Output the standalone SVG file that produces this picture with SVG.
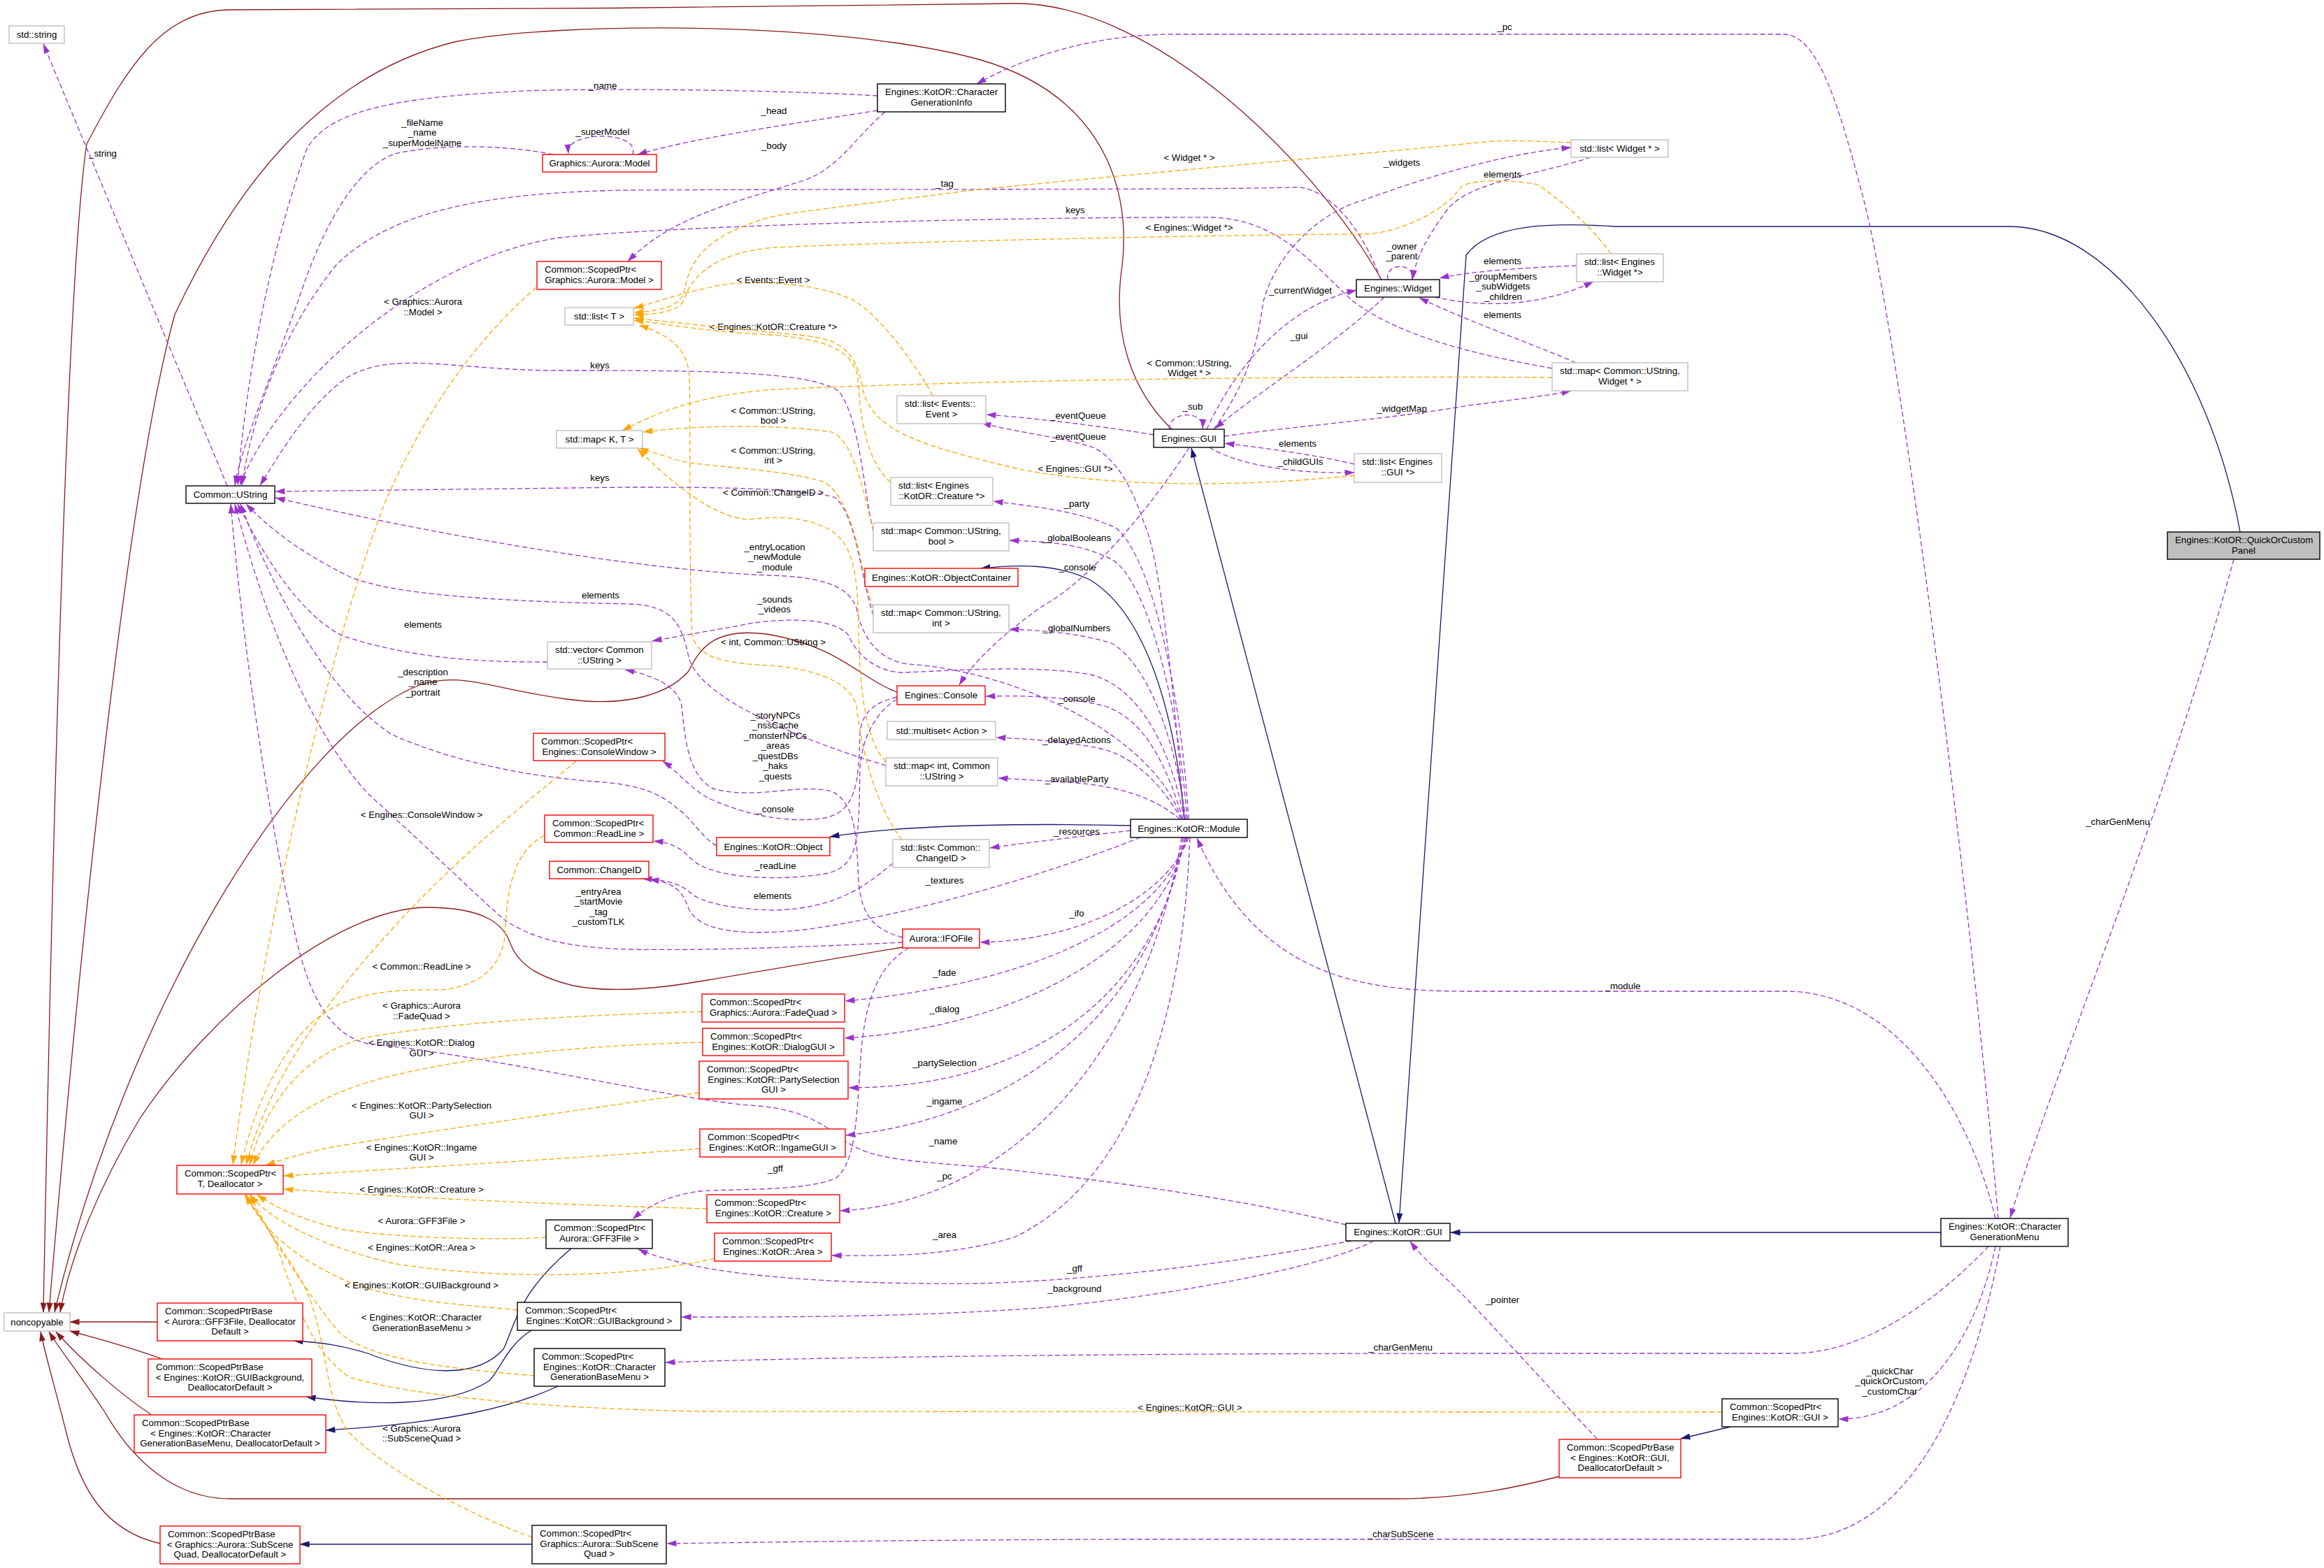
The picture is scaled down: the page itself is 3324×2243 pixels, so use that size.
<svg xmlns="http://www.w3.org/2000/svg" width="3324" height="2243" viewBox="0 0 3324 2243">
<defs>
<style>
text{font-family:"Liberation Sans",Arial,Helvetica,sans-serif;font-size:13.3px;fill:#000}
.c{text-anchor:middle}
.s{text-anchor:start}
rect{fill:#fff;stroke-width:1.4}
.k{stroke:#000}
.g{stroke:#bfbfbf}
.r{stroke:#ff0000}
.pnl{fill:#bfbfbf;stroke:#000}
.e{fill:none;stroke-width:1.3}
.pu{stroke:#9a32cd;stroke-dasharray:7,4;marker-end:url(#mp)}
.or{stroke:#ffa500;stroke-dasharray:7,4;marker-end:url(#mo)}
.bl{stroke:#191970;marker-end:url(#mb)}
.fb{stroke:#8b1a1a;marker-end:url(#mf)}
</style>
<marker id="mp" viewBox="0 0 14 10" markerWidth="14" markerHeight="10" refX="13.5" refY="5" orient="auto" markerUnits="userSpaceOnUse"><path d="M0,0.5 L14,5 L0,9.5 z" fill="#9a32cd"/></marker>
<marker id="mo" viewBox="0 0 14 10" markerWidth="14" markerHeight="10" refX="13.5" refY="5" orient="auto" markerUnits="userSpaceOnUse"><path d="M0,0.5 L14,5 L0,9.5 z" fill="#ffa500"/></marker>
<marker id="mb" viewBox="0 0 14 10" markerWidth="14" markerHeight="10" refX="13.5" refY="5" orient="auto" markerUnits="userSpaceOnUse"><path d="M0,0.5 L14,5 L0,9.5 z" fill="#191970"/></marker>
<marker id="mf" viewBox="0 0 14 10" markerWidth="14" markerHeight="10" refX="13.5" refY="5" orient="auto" markerUnits="userSpaceOnUse"><path d="M0,0.5 L14,5 L0,9.5 z" fill="#8b1a1a"/></marker>
</defs>
<rect x="0" y="0" width="3324" height="2243" style="fill:#fff;stroke:none"/>

<g id="connectors">
<!-- private inheritance to noncopyable -->
<path class="e fb" d="M1976,400 C1880,230 1650,5 1453,5 C1200,10 600,14 330,14 C230,14 180,100 124,206 C95,400 75,1200 62,1877"/>
<path class="e fb" d="M1676,614 C1620,560 1590,480 1605,380 C1620,250 1560,130 1400,85 C1200,30 800,30 650,60 C450,110 330,280 250,450 C180,700 110,1400 70,1877"/>
<path class="e fb" d="M1283,990 C1230,970 1200,925 1102,908 C1020,895 1000,930 985,960 C950,1000 880,1010 810,1000 C700,985 660,960 600,980 C420,1050 180,1450 78,1877"/>
<path class="e fb" d="M1291,1355 C1200,1370 1100,1387 1000,1404 C930,1416 870,1420 820,1410 C760,1395 740,1375 730,1350 C720,1320 690,1298 610,1298 C480,1300 300,1450 200,1600 C140,1700 100,1800 86,1877"/>
<path class="e fb" d="M2230,2112 C2180,2125 2100,2144 1996,2144 L330,2144 C250,2144 190,2090 150,2020 C110,1960 85,1930 70,1905"/>
<path class="e fb" d="M225,1891 L100,1891"/>
<path class="e fb" d="M232,1944 C180,1925 140,1915 100,1904"/>
<path class="e fb" d="M217,2024 C180,2000 120,1950 80,1905"/>
<path class="e fb" d="M229,2208 C150,2190 115,2130 95,2050 C80,1990 64,1935 58,1905"/>

<!-- public inheritance -->
<path class="e bl" d="M1996,1750 L1704,641"/>
<path class="e bl" d="M2776,1763 L2075,1763"/>
<path class="e bl" d="M3204,761 C3160,520 3020,324 2874,324 L2310,324 C2220,318 2130,320 2097,365 L2001,1749"/>
<path class="e bl" d="M1694,1172 C1680,1020 1640,880 1560,830 C1510,805 1450,808 1403,813"/>
<path class="e bl" d="M1617,1181 C1500,1178 1300,1178 1187,1197"/>
<path class="e bl" d="M817,1786 C740,1850 735,1900 720,1930 C680,1975 600,1965 526,1936 C490,1925 460,1920 420,1918"/>
<path class="e bl" d="M760,1903 C725,1925 715,1960 700,1975 C640,2015 520,2010 438,1998"/>
<path class="e bl" d="M798,1983 C740,2010 650,2035 466,2046"/>
<path class="e bl" d="M761,2209 L429,2209"/>
<path class="e bl" d="M2475,2041 L2404,2058"/>

<!-- usage -->
<path class="e pu" d="M325,695 L62,63"/>
<text class="c" x="147" y="223.5">_string</text>
<path class="e pu" d="M1255,137 C1100,128 850,126 750,130 C600,138 470,150 438,215 C380,380 350,560 340,694"/>
<text class="c" x="862" y="126.5">_name</text>
<path class="e pu" d="M791,221 C740,210 640,203 565,220 C520,235 470,300 430,420 C380,560 345,640 336,694"/>
<text class="c" x="604" y="179.5">_fileName</text><text class="c" x="604" y="194">_name</text><text class="c" x="604" y="208.5">_superModelName</text>
<path class="e pu" d="M905,221 C912,198 870,192 845,196 C820,200 812,208 813,220"/>
<text class="c" x="862" y="192.5">_superModel</text>
<path class="e pu" d="M1255,158 C1150,175 1000,195 912,221"/>
<text class="c" x="1107" y="162.5">_head</text>
<path class="e pu" d="M1266,160 C1220,200 1200,240 1150,258 C1050,290 960,310 898,374"/>
<text class="c" x="1107" y="212.5">_body</text>
<path class="e pu" d="M1975,400 C1950,330 1900,265 1850,268 C1700,272 1200,270 900,272 C700,275 560,300 480,380 C400,480 360,600 346,694"/>
<text class="c" x="1351" y="266.5">_tag</text>
<path class="e pu" d="M2220,527 C2100,505 2000,480 1934,430 C1880,380 1830,315 1736,311 C1500,310 1000,320 800,340 C600,370 400,550 343,694"/>
<text class="c" x="1538" y="304.5">keys</text>
<path class="e pu" d="M1249,760 C1235,700 1230,600 1200,560 C1160,530 1000,530 800,530 C650,530 560,500 495,541 C440,580 400,650 372,694"/>
<text class="c" x="858" y="526.5">keys</text>
<path class="e pu" d="M1249,880 C1230,820 1225,740 1195,712 C1150,697 1000,697 900,697 L394,703"/>
<text class="c" x="858" y="687.5">keys</text>
<path class="e pu" d="M1690,1172 C1650,1050 1450,960 1300,950 C1250,945 1230,900 1225,870 C1215,840 1180,825 1100,823 C900,815 600,760 394,712"/>
<text class="c" x="1108" y="786.5">_entryLocation</text><text class="c" x="1108" y="801">_newModule</text><text class="c" x="1108" y="815.5">_module</text>
<path class="e pu" d="M783,947 C700,947 600,945 491,910 C430,880 380,800 340,721"/>
<text class="c" x="605" y="897.5">elements</text>
<path class="e pu" d="M1267,1095 C1150,1060 1000,1000 985,940 C975,890 960,866 900,864 C700,860 560,850 500,825 C430,790 390,760 352,721"/>
<text class="c" x="859" y="855.5">elements</text>
<path class="e pu" d="M1025,1210 C1000,1195 990,1170 968,1156 C940,1130 900,1121 850,1118 C750,1110 650,1090 561,1051 C480,1000 400,870 344,721"/>
<text class="c" x="605" y="965.5">_description</text><text class="c" x="605" y="980">_name</text><text class="c" x="605" y="994.5">_portrait</text>
<path class="e pu" d="M1291,1348 C1150,1355 1000,1360 900,1358 C800,1355 760,1340 723,1317 C680,1280 620,1220 526,1135 C430,1030 370,850 336,721"/>
<text class="c" x="856" y="1279.5">_entryArea</text><text class="c" x="856" y="1294">_startMovie</text><text class="c" x="856" y="1308.5">_tag</text><text class="c" x="856" y="1323">_customTLK</text>
<path class="e pu" d="M1925,1752 C1800,1720 1600,1690 1421,1671 C1300,1660 1250,1660 1210,1633 C1180,1610 1150,1585 1070,1581 C950,1570 700,1510 526,1493 C470,1480 440,1420 421,1331 C380,1150 345,900 330,721"/>
<text class="c" x="1349" y="1636.5">_name</text>
<path class="e pu" d="M1736,614 C1790,540 1800,480 1807,431 C1830,350 1900,300 1948,287 C2050,250 2150,220 2247,211"/>
<text class="c" x="2005" y="236.5">_widgets</text>
<path class="e pu" d="M2275,225 C2200,250 2100,260 2070,300 C2040,340 2025,370 2020,400"/>
<text class="c" x="2149" y="253.5">elements</text>
<path class="e pu" d="M1985,400 C1980,376 2024,374 2020,400"/>
<text class="c" x="2005" y="356.5">_owner</text><text class="c" x="2005" y="371">_parent</text>
<path class="e pu" d="M2255,380 C2180,383 2100,388 2059,398"/>
<text class="c" x="2149" y="377.5">elements</text>
<path class="e pu" d="M2052,425 C2120,440 2200,440 2279,403"/>
<text class="c" x="2150" y="399.5">_groupMembers</text><text class="c" x="2150" y="414">_subWidgets</text><text class="c" x="2150" y="428.5">_children</text>
<path class="e pu" d="M2254,519 C2200,495 2100,460 2030,426"/>
<text class="c" x="2149" y="454.5">elements</text>
<path class="e pu" d="M1726,614 C1760,540 1830,440 1940,415"/>
<text class="c" x="1860" y="419.5">_currentWidget</text>
<path class="e pu" d="M1980,425 C1900,500 1800,560 1738,613"/>
<text class="c" x="1858" y="484.5">_gui</text>
<path class="e pu" d="M1672,614 C1672,588 1722,586 1720,613"/>
<text class="c" x="1706" y="585.5">_sub</text>
<path class="e pu" d="M1751,624 C1850,610 2000,598 2100,580 C2180,570 2220,565 2247,559"/>
<text class="c" x="2005" y="588.5">_widgetMap</text>
<path class="e pu" d="M1650,622 C1580,610 1480,598 1411,593"/>
<text class="c" x="1542" y="598.5">_eventQueue</text>
<path class="e pu" d="M1694,1172 C1680,1000 1660,800 1637,750 C1620,700 1600,660 1566,641 C1520,625 1460,620 1404,605"/>
<text class="c" x="1542" y="628.5">_eventQueue</text>
<path class="e pu" d="M1937,664 C1880,650 1800,640 1752,634"/>
<text class="c" x="1856" y="638.5">elements</text>
<path class="e pu" d="M1730,640 C1770,665 1850,678 1937,676"/>
<text class="c" x="1860" y="664.5">_childGUIs</text>
<path class="e pu" d="M1701,640 C1650,720 1560,830 1491,867 C1430,910 1390,950 1372,980"/>
<text class="c" x="1541" y="815.5">_console</text>
<path class="e pu" d="M1700,1172 C1690,1000 1650,800 1596,755 C1540,730 1480,725 1421,717"/>
<text class="c" x="1540" y="724.5">_party</text>
<path class="e pu" d="M1698,1172 C1685,1000 1640,830 1590,800 C1540,775 1490,775 1444,773"/>
<text class="c" x="1540" y="773.5">_globalBooleans</text>
<path class="e pu" d="M1696,1172 C1680,1050 1640,950 1590,920 C1540,905 1490,902 1444,900"/>
<text class="c" x="1540" y="902.5">_globalNumbers</text>
<path class="e pu" d="M1692,1172 C1670,1100 1640,1030 1580,1010 C1520,995 1460,995 1410,996"/>
<text class="c" x="1540" y="1003.5">_console</text>
<path class="e pu" d="M1690,1172 C1660,1120 1620,1080 1570,1070 C1520,1060 1470,1057 1425,1055"/>
<text class="c" x="1540" y="1062.5">_delayedActions</text>
<path class="e pu" d="M1688,1172 C1650,1140 1600,1125 1540,1120 C1500,1117 1460,1115 1428,1113"/>
<text class="c" x="1540" y="1118.5">_availableParty</text>
<path class="e pu" d="M1617,1188 C1560,1195 1470,1205 1416,1213"/>
<text class="c" x="1540" y="1193.5">_resources</text>
<path class="e pu" d="M1631,1198 C1500,1250 1300,1310 1150,1330 C1050,1340 1000,1330 985,1300 C975,1270 960,1262 929,1258"/>
<text class="c" x="1351" y="1263.5">_textures</text>
<path class="e pu" d="M1277,1235 C1240,1265 1200,1300 1105,1302 C1040,1300 1000,1290 985,1275 C970,1262 945,1258 919,1257"/>
<text class="c" x="1105" y="1285.5">elements</text>
<path class="e pu" d="M1700,1198 C1670,1280 1550,1345 1402,1348"/>
<text class="c" x="1540" y="1310.5">_ifo</text>
<path class="e pu" d="M1698,1198 C1660,1330 1450,1410 1209,1432"/>
<text class="c" x="1351" y="1395.5">_fade</text>
<path class="e pu" d="M1696,1198 C1660,1360 1450,1470 1208,1485"/>
<text class="c" x="1351" y="1447.5">_dialog</text>
<path class="e pu" d="M1694,1198 C1660,1400 1500,1556 1214,1556"/>
<text class="c" x="1351" y="1524.5">_partySelection</text>
<path class="e pu" d="M1692,1198 C1650,1450 1450,1600 1210,1624"/>
<text class="c" x="1351" y="1579.5">_ingame</text>
<path class="e pu" d="M1690,1198 C1640,1500 1450,1720 1202,1732"/>
<text class="c" x="1351" y="1686.5">_pc</text>
<path class="e pu" d="M1702,1198 C1690,1500 1600,1700 1450,1770 C1350,1800 1250,1796 1190,1796"/>
<text class="c" x="1351" y="1770.5">_area</text>
<path class="e pu" d="M2854,1743 C2820,1600 2720,1420 2556,1418 L2100,1418 C1950,1418 1800,1400 1712,1199"/>
<text class="c" x="2321" y="1414.5">_module</text>
<path class="e pu" d="M3195,800 C3100,1150 2950,1500 2875,1742"/>
<text class="c" x="3029" y="1179.5">_charGenMenu</text>
<path class="e pu" d="M2858,1743 C2820,1300 2720,500 2666,287 C2630,150 2600,49 2551,49 L1680,49 C1550,49 1450,90 1397,120"/>
<text class="c" x="2152" y="42.5">_pc</text>
<path class="e pu" d="M1283,997 C1250,1005 1232,1020 1230,1050 C1228,1120 1225,1160 1180,1170 C1120,1180 1050,1160 1010,1140 C985,1125 965,1100 948,1089"/>
<text class="c" x="1109" y="1161.5">_console</text>
<path class="e pu" d="M1283,1000 C1250,1020 1232,1060 1230,1100 C1228,1200 1230,1240 1180,1250 C1100,1262 1010,1255 985,1225 C970,1210 955,1205 935,1203"/>
<text class="c" x="1109" y="1242.5">_readLine</text>
<path class="e pu" d="M1291,1341 C1250,1330 1232,1310 1228,1260 C1225,1200 1225,1150 1190,1132 C1140,1120 1080,1145 1020,1128 C985,1110 980,1060 975,1010 C970,980 930,965 894,958"/>
<text class="c" x="1109" y="1027.5">_storyNPCs</text><text class="c" x="1109" y="1042">_nssCache</text><text class="c" x="1109" y="1056.5">_monsterNPCs</text><text class="c" x="1109" y="1071">_areas</text><text class="c" x="1109" y="1085.5">_questDBs</text><text class="c" x="1109" y="1100">_haks</text><text class="c" x="1109" y="1114.5">_quests</text>
<path class="e pu" d="M1694,1172 C1670,1050 1620,980 1560,965 C1480,950 1350,960 1290,962 C1250,960 1225,935 1213,908 C1190,880 1100,885 1057,895 C1000,905 960,912 933,917"/>
<text class="c" x="1108" y="861.5">_sounds</text><text class="c" x="1108" y="875.5">_videos</text>
<path class="e pu" d="M1300,1356 C1260,1380 1240,1420 1232,1500 C1225,1600 1225,1660 1196,1685 C1150,1705 1050,1700 1000,1704 C960,1710 930,1722 905,1744"/>
<text class="c" x="1109" y="1675.5">_gff</text>
<path class="e pu" d="M1933,1775 C1800,1800 1600,1830 1400,1836 C1200,1838 1050,1825 982,1808 C950,1800 930,1795 913,1787"/>
<text class="c" x="1537" y="1818.5">_gff</text>
<path class="e pu" d="M1965,1775 C1900,1810 1700,1850 1500,1870 C1300,1885 1100,1884 975,1884"/>
<text class="c" x="1537" y="1847.5">_background</text>
<path class="e pu" d="M2844,1783 C2790,1840 2680,1936 2563,1936 L2100,1936 C1700,1936 1200,1940 952,1949"/>
<text class="c" x="2003" y="1931.5">_charGenMenu</text>
<path class="e pu" d="M2861,1783 C2830,1950 2750,2202 2563,2202 L1600,2202 C1300,2203 1100,2206 954,2208"/>
<text class="c" x="2003" y="2198.5">_charSubScene</text>
<path class="e pu" d="M2854,1783 C2830,1900 2760,2030 2630,2030"/>
<text class="c" x="2703" y="1965.5">_quickChar</text><text class="c" x="2703" y="1980">_quickOrCustom</text><text class="c" x="2703" y="1994.5">_customChar</text>
<path class="e pu" d="M2284,2058 C2220,1990 2130,1890 2090,1850 C2060,1820 2035,1800 2017,1776"/>
<text class="c" x="2149" y="1863.5">_pointer</text>

<!-- template instances -->
<path class="e or" d="M2247,204 C2200,202 2150,200 2125,203 C1900,225 1500,260 1383,273 C1250,290 1120,305 1100,311 C1000,340 985,380 978,420 C970,440 940,445 907,447"/>
<text class="c" x="1701" y="229.5">&lt; Widget * &gt;</text>
<path class="e or" d="M2304,363 C2280,330 2250,300 2200,264 C2150,255 2100,258 2089,268 C2070,300 2000,335 1948,335 C1800,335 1300,345 1108,354 C1030,360 990,390 978,430 C970,445 940,450 907,450"/>
<text class="c" x="1701" y="329.5">&lt; Engines::Widget *&gt;</text>
<path class="e or" d="M1334,566 C1310,520 1250,440 1213,426 C1150,400 1050,400 1012,412 C970,420 940,432 907,441"/>
<text class="c" x="1106" y="404.5">&lt; Events::Event &gt;</text>
<path class="e or" d="M1274,690 C1240,660 1230,600 1227,540 C1220,500 1180,485 1102,479 C1020,475 960,465 907,458"/>
<text class="c" x="1106" y="471.5">&lt; Engines::KotOR::Creature *&gt;</text>
<path class="e or" d="M1937,680 C1800,695 1600,700 1453,670 C1330,640 1250,620 1235,560 C1225,500 1200,485 1150,480 C1050,470 950,460 907,455"/>
<text class="c" x="1538" y="674.5">&lt; Engines::GUI *&gt;</text>
<path class="e or" d="M1290,1201 C1250,1150 1230,1060 1225,1010 C1215,970 1150,955 1100,952 C1030,948 1000,940 990,910 C985,800 988,600 986,540 C984,500 960,480 914,465"/>
<text class="c" x="1106" y="708.5">&lt; Common::ChangeID &gt;</text>
<path class="e or" d="M1267,1090 C1240,1060 1230,1000 1228,900 C1227,820 1220,780 1190,760 C1150,735 1100,740 1070,743 C1020,740 960,690 912,642"/>
<text class="c" x="1106" y="922.5">&lt; int, Common::UString &gt;</text>
<path class="e or" d="M1249,760 C1235,700 1220,630 1190,618 C1100,605 980,610 920,618"/>
<text class="c" x="1106" y="591.5">&lt; Common::UString,</text><text class="c" x="1106" y="605.5">bool &gt;</text>
<path class="e or" d="M1249,870 C1230,820 1225,720 1180,690 C1120,670 1000,668 968,658 C945,650 925,645 914,641"/>
<text class="c" x="1106" y="648.5">&lt; Common::UString,</text><text class="c" x="1106" y="663">int &gt;</text>
<path class="e or" d="M2220,540 C2000,538 1500,540 1108,557 C1000,565 940,590 890,616"/>
<text class="c" x="1701" y="523.5">&lt; Common::UString,</text><text class="c" x="1701" y="537.5">Widget * &gt;</text>
<path class="e or" d="M767,411 C700,470 620,560 551,718 C480,900 380,1300 333,1666"/>
<text class="c" x="605" y="435.5">&lt; Graphics::Aurora</text><text class="c" x="605" y="450.5">::Model &gt;</text>
<path class="e or" d="M824,1089 C750,1150 650,1230 560,1330 C450,1450 380,1560 352,1666"/>
<text class="c" x="603" y="1169.5">&lt; Engines::ConsoleWindow &gt;</text>
<path class="e or" d="M779,1195 C740,1215 725,1260 723,1331 C720,1380 690,1410 631,1416 C550,1415 480,1420 430,1480 C380,1540 355,1620 345,1666"/>
<text class="c" x="603" y="1386.5">&lt; Common::ReadLine &gt;</text>
<path class="e or" d="M1004,1447 C850,1452 650,1460 520,1485 C430,1510 380,1580 357,1666"/>
<text class="c" x="603" y="1442.5">&lt; Graphics::Aurora</text><text class="c" x="603" y="1457.5">::FadeQuad &gt;</text>
<path class="e or" d="M1005,1491 C850,1495 650,1510 520,1550 C430,1580 385,1620 362,1666"/>
<text class="c" x="603" y="1495.5">&lt; Engines::KotOR::Dialog</text><text class="c" x="603" y="1510.5">GUI &gt;</text>
<path class="e or" d="M1000,1563 C850,1585 600,1620 480,1640 C430,1650 400,1660 380,1667"/>
<text class="c" x="603" y="1585.5">&lt; Engines::KotOR::PartySelection</text><text class="c" x="603" y="1599.5">GUI &gt;</text>
<path class="e or" d="M1001,1643 C850,1655 600,1670 406,1682"/>
<text class="c" x="603" y="1645.5">&lt; Engines::KotOR::Ingame</text><text class="c" x="603" y="1659.5">GUI &gt;</text>
<path class="e or" d="M1011,1729 C850,1725 600,1715 406,1701"/>
<text class="c" x="603" y="1705.5">&lt; Engines::KotOR::Creature &gt;</text>
<path class="e or" d="M781,1770 C700,1775 560,1770 491,1759 C430,1745 390,1725 368,1709"/>
<text class="c" x="603" y="1750.5">&lt; Aurora::GFF3File &gt;</text>
<path class="e or" d="M1022,1800 C900,1830 700,1830 561,1807 C470,1785 390,1750 358,1709"/>
<text class="c" x="603" y="1788.5">&lt; Engines::KotOR::Area &gt;</text>
<path class="e or" d="M740,1874 C650,1865 540,1860 470,1820 C410,1790 370,1750 352,1709"/>
<text class="c" x="603" y="1842.5">&lt; Engines::KotOR::GUIBackground &gt;</text>
<path class="e or" d="M764,1968 C680,1960 520,1950 480,1900 C440,1850 380,1760 358,1709"/>
<text class="c" x="603" y="1888.5">&lt; Engines::KotOR::Character</text><text class="c" x="603" y="1903.5">GenerationBaseMenu &gt;</text>
<path class="e or" d="M761,2199 C680,2170 560,2110 500,2050 C460,2000 470,1900 430,1830 C400,1780 370,1740 352,1709"/>
<text class="c" x="603" y="2047.5">&lt; Graphics::Aurora</text><text class="c" x="603" y="2061.5">::SubSceneQuad &gt;</text>
<path class="e or" d="M2463,2020 L1000,2019 C800,2015 600,2000 500,1970 C440,1930 420,1850 395,1780 C380,1750 360,1725 350,1709"/>
<text class="c" x="1702" y="2017.5">&lt; Engines::KotOR::GUI &gt;</text>
</g>

<g id="n_string"><rect class="g" x="13" y="37" width="79" height="25"/><text class="c" x="52.5" y="54.1">std::string</text></g>
<g id="n_ustring"><rect class="k" x="266" y="695" width="127" height="25"/><text class="c" x="329.5" y="712.1">Common::UString</text></g>
<g id="n_noncopyable"><rect class="g" x="6" y="1878" width="94" height="26"/><text class="c" x="53" y="1895.6">noncopyable</text></g>
<g id="n_model"><rect class="r" x="776" y="221" width="163" height="25"/><text class="c" x="857.5" y="238.1">Graphics::Aurora::Model</text></g>
<g id="n_cginfo"><rect class="k" x="1255" y="120" width="183" height="40"/><text class="s" x="1266" y="135.8">Engines::KotOR::Character</text><text class="c" x="1346.5" y="150.6">GenerationInfo</text></g>
<g id="n_spmodel"><rect class="r" x="768" y="374" width="178" height="40"/><text class="s" x="779" y="389.8">Common::ScopedPtr&lt;</text><text class="c" x="857" y="404.6">Graphics::Aurora::Model &gt;</text></g>
<g id="n_listT"><rect class="g" x="808" y="440" width="98" height="25"/><text class="c" x="857" y="457.1">std::list&lt; T &gt;</text></g>
<g id="n_mapKT"><rect class="g" x="796" y="616" width="123" height="25"/><text class="c" x="857.5" y="633.1">std::map&lt; K, T &gt;</text></g>
<g id="n_listWidgetPtr"><rect class="g" x="2247" y="200" width="139" height="25"/><text class="c" x="2316.5" y="217.1">std::list&lt; Widget * &gt;</text></g>
<g id="n_widget"><rect class="k" x="1940" y="400" width="119" height="25"/><text class="c" x="1999.5" y="417.1">Engines::Widget</text></g>
<g id="n_listEngWidget"><rect class="g" x="2255" y="363" width="124" height="40"/><text class="s" x="2266" y="378.8">std::list&lt; Engines</text><text class="c" x="2317" y="393.6">::Widget *&gt;</text></g>
<g id="n_mapUStringWidget"><rect class="g" x="2220" y="519" width="194" height="40"/><text class="s" x="2231" y="534.8">std::map&lt; Common::UString,</text><text class="c" x="2317" y="549.6">Widget * &gt;</text></g>
<g id="n_listEvents"><rect class="g" x="1283" y="566" width="127" height="40"/><text class="s" x="1294" y="581.8">std::list&lt; Events::</text><text class="c" x="1346.5" y="596.6">Event &gt;</text></g>
<g id="n_gui"><rect class="k" x="1650" y="614" width="101" height="26"/><text class="c" x="1700.5" y="631.6">Engines::GUI</text></g>
<g id="n_listGUI"><rect class="g" x="1937" y="649" width="125" height="41"/><text class="s" x="1948" y="664.8">std::list&lt; Engines</text><text class="c" x="1999.5" y="679.6">::GUI *&gt;</text></g>
<g id="n_listCreature"><rect class="g" x="1274" y="683" width="146" height="40"/><text class="s" x="1285" y="698.8">std::list&lt; Engines</text><text class="c" x="1347" y="713.6">::KotOR::Creature *&gt;</text></g>
<g id="n_mapBool"><rect class="g" x="1249" y="748" width="194" height="40"/><text class="s" x="1260" y="763.8">std::map&lt; Common::UString,</text><text class="c" x="1346" y="778.6">bool &gt;</text></g>
<g id="n_objectContainer"><rect class="r" x="1237" y="813" width="219" height="26"/><text class="c" x="1346.5" y="830.6">Engines::KotOR::ObjectContainer</text></g>
<g id="n_mapInt"><rect class="g" x="1249" y="865" width="194" height="40"/><text class="s" x="1260" y="880.8">std::map&lt; Common::UString,</text><text class="c" x="1346" y="895.6">int &gt;</text></g>
<g id="n_vectorUString"><rect class="g" x="783" y="918" width="149" height="39"/><text class="s" x="794" y="933.8">std::vector&lt; Common</text><text class="c" x="857.5" y="948.6">::UString &gt;</text></g>
<g id="n_console"><rect class="r" x="1283" y="981" width="126" height="27"/><text class="c" x="1346" y="999.1">Engines::Console</text></g>
<g id="n_spConsoleWindow"><rect class="r" x="763" y="1049" width="188" height="39"/><text class="s" x="774" y="1064.8">Common::ScopedPtr&lt;</text><text class="c" x="857" y="1079.6">Engines::ConsoleWindow &gt;</text></g>
<g id="n_multiset"><rect class="g" x="1269" y="1032" width="155" height="26"/><text class="c" x="1346.5" y="1049.6">std::multiset&lt; Action &gt;</text></g>
<g id="n_mapIntUString"><rect class="g" x="1267" y="1084" width="160" height="40"/><text class="s" x="1278" y="1099.8">std::map&lt; int, Common</text><text class="c" x="1347" y="1114.6">::UString &gt;</text></g>
<g id="n_spReadLine"><rect class="r" x="779" y="1166" width="155" height="39"/><text class="s" x="790" y="1181.8">Common::ScopedPtr&lt;</text><text class="c" x="856.5" y="1196.6">Common::ReadLine &gt;</text></g>
<g id="n_module"><rect class="k" x="1617" y="1172" width="167" height="26"/><text class="c" x="1700.5" y="1189.6">Engines::KotOR::Module</text></g>
<g id="n_object"><rect class="r" x="1025" y="1198" width="162" height="26"/><text class="c" x="1106" y="1215.6">Engines::KotOR::Object</text></g>
<g id="n_listChangeID"><rect class="g" x="1277" y="1201" width="138" height="40"/><text class="s" x="1288" y="1216.8">std::list&lt; Common::</text><text class="c" x="1346" y="1231.6">ChangeID &gt;</text></g>
<g id="n_changeID"><rect class="r" x="786" y="1232" width="142" height="25"/><text class="c" x="857" y="1249.1">Common::ChangeID</text></g>
<g id="n_ifoFile"><rect class="r" x="1291" y="1329" width="110" height="27"/><text class="c" x="1346" y="1347.1">Aurora::IFOFile</text></g>
<g id="n_spFadeQuad"><rect class="r" x="1004" y="1422" width="204" height="40"/><text class="s" x="1015" y="1437.8">Common::ScopedPtr&lt;</text><text class="c" x="1106" y="1452.6">Graphics::Aurora::FadeQuad &gt;</text></g>
<g id="n_spDialogGUI"><rect class="r" x="1005" y="1471" width="202" height="39"/><text class="s" x="1016" y="1486.8">Common::ScopedPtr&lt;</text><text class="c" x="1106" y="1501.6">Engines::KotOR::DialogGUI &gt;</text></g>
<g id="n_spPartySelection"><rect class="r" x="1000" y="1518" width="213" height="54"/><text class="s" x="1011" y="1533.8">Common::ScopedPtr&lt;</text><text class="c" x="1106.5" y="1548.6">Engines::KotOR::PartySelection</text><text class="c" x="1106.5" y="1563.4">GUI &gt;</text></g>
<g id="n_spIngameGUI"><rect class="r" x="1001" y="1615" width="208" height="40"/><text class="s" x="1012" y="1630.8">Common::ScopedPtr&lt;</text><text class="c" x="1105" y="1645.6">Engines::KotOR::IngameGUI &gt;</text></g>
<g id="n_spT"><rect class="r" x="253" y="1667" width="152" height="41"/><text class="s" x="264" y="1682.8">Common::ScopedPtr&lt;</text><text class="c" x="329" y="1697.6">T, Deallocator &gt;</text></g>
<g id="n_spCreature"><rect class="r" x="1011" y="1709" width="190" height="40"/><text class="s" x="1022" y="1724.8">Common::ScopedPtr&lt;</text><text class="c" x="1106" y="1739.6">Engines::KotOR::Creature &gt;</text></g>
<g id="n_spGFF3"><rect class="k" x="781" y="1745" width="152" height="41"/><text class="s" x="792" y="1760.8">Common::ScopedPtr&lt;</text><text class="c" x="857" y="1775.6">Aurora::GFF3File &gt;</text></g>
<g id="n_spArea"><rect class="r" x="1022" y="1764" width="167" height="40"/><text class="s" x="1033" y="1779.8">Common::ScopedPtr&lt;</text><text class="c" x="1105.5" y="1794.6">Engines::KotOR::Area &gt;</text></g>
<g id="n_kotorGUI"><rect class="k" x="1925" y="1750" width="149" height="25"/><text class="c" x="1999.5" y="1767.1">Engines::KotOR::GUI</text></g>
<g id="n_charGenMenu"><rect class="k" x="2776" y="1743" width="182" height="40"/><text class="s" x="2787" y="1758.8">Engines::KotOR::Character</text><text class="c" x="2867" y="1773.6">GenerationMenu</text></g>
<g id="n_spKotorGUI"><rect class="k" x="2463" y="2001" width="166" height="40"/><text class="s" x="2474" y="2016.8">Common::ScopedPtr&lt;</text><text class="c" x="2546" y="2031.6">Engines::KotOR::GUI &gt;</text></g>
<g id="n_spbKotorGUI"><rect class="r" x="2230" y="2059" width="174" height="55"/><text class="s" x="2241" y="2074.8">Common::ScopedPtrBase</text><text class="c" x="2317" y="2089.6">&lt; Engines::KotOR::GUI,</text><text class="c" x="2317" y="2104.4">DeallocatorDefault &gt;</text></g>
<g id="n_spGUIBackground"><rect class="k" x="740" y="1863" width="234" height="40"/><text class="s" x="751" y="1878.8">Common::ScopedPtr&lt;</text><text class="c" x="857" y="1893.6">Engines::KotOR::GUIBackground &gt;</text></g>
<g id="n_spCharGenBaseMenu"><rect class="k" x="764" y="1929" width="187" height="54"/><text class="s" x="775" y="1944.8">Common::ScopedPtr&lt;</text><text class="c" x="857.5" y="1959.6">Engines::KotOR::Character</text><text class="c" x="857.5" y="1974.4">GenerationBaseMenu &gt;</text></g>
<g id="n_spSubSceneQuad"><rect class="k" x="761" y="2182" width="192" height="55"/><text class="s" x="772" y="2197.8">Common::ScopedPtr&lt;</text><text class="c" x="857" y="2212.6">Graphics::Aurora::SubScene</text><text class="c" x="857" y="2227.4">Quad &gt;</text></g>
<g id="n_spbGFF3"><rect class="r" x="225" y="1864" width="208" height="54"/><text class="s" x="236" y="1879.8">Common::ScopedPtrBase</text><text class="c" x="329" y="1894.6">&lt; Aurora::GFF3File, Deallocator</text><text class="c" x="329" y="1909.4">Default &gt;</text></g>
<g id="n_spbGUIBackground"><rect class="r" x="212" y="1944" width="234" height="54"/><text class="s" x="223" y="1959.8">Common::ScopedPtrBase</text><text class="c" x="329" y="1974.6">&lt; Engines::KotOR::GUIBackground,</text><text class="c" x="329" y="1989.4">DeallocatorDefault &gt;</text></g>
<g id="n_spbCharGenBaseMenu"><rect class="r" x="192" y="2024" width="274" height="54"/><text class="s" x="203" y="2039.8">Common::ScopedPtrBase</text><text class="s" x="215" y="2054.6">&lt; Engines::KotOR::Character</text><text class="c" x="329" y="2069.4">GenerationBaseMenu, DeallocatorDefault &gt;</text></g>
<g id="n_spbSubSceneQuad"><rect class="r" x="229" y="2183" width="200" height="54"/><text class="s" x="240" y="2198.8">Common::ScopedPtrBase</text><text class="c" x="329" y="2213.6">&lt; Graphics::Aurora::SubScene</text><text class="c" x="329" y="2228.4">Quad, DeallocatorDefault &gt;</text></g>
<g id="n_quickOrCustomPanel"><rect class="pnl" x="3100" y="761" width="218" height="39"/><text class="s" x="3111" y="776.8">Engines::KotOR::QuickOrCustom</text><text class="c" x="3209" y="791.6">Panel</text></g>
</svg>
